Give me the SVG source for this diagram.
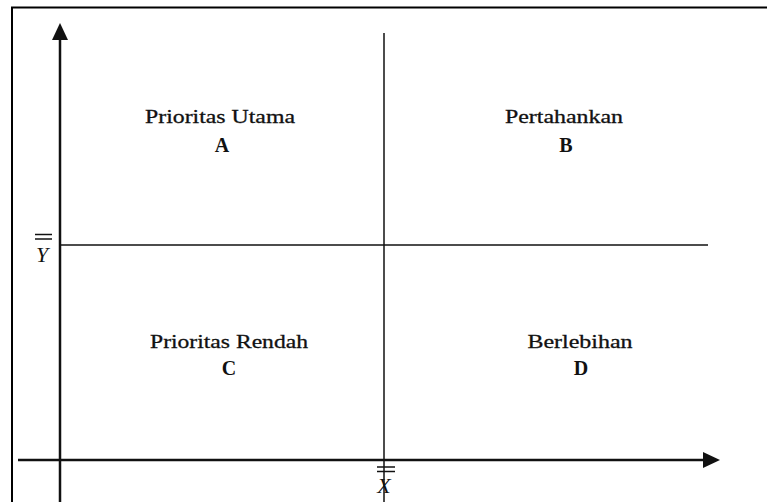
<svg xmlns="http://www.w3.org/2000/svg" width="767" height="502" viewBox="0 0 767 502">
<defs>
<style>
.ax{stroke:#111;stroke-width:2.5;fill:none}
.ln{stroke:#111;stroke-width:1.5;fill:none}
.lbl{font-family:"Liberation Serif",serif;font-size:19px;fill:#111;stroke:#111;stroke-width:0.3;text-anchor:middle}
.let{font-family:"Liberation Serif",serif;font-size:20px;font-weight:bold;fill:#111;text-anchor:middle}
.var{font-family:"Liberation Serif",serif;font-size:22px;font-style:italic;fill:#111;text-anchor:middle}
.bar{stroke:#111;stroke-width:1.5}
</style>
</defs>
<rect x="0" y="0" width="767" height="502" fill="#fff"/>
<g id="frame">
<path d="M12 502 V7.5 H767" stroke="#000" stroke-width="2" fill="none"/>
</g>
<g id="connectors">
<line class="ax" x1="60" y1="502" x2="60" y2="38"/>
<polygon points="60,23 52,40 68,40" fill="#111"/>
<line class="ax" x1="18" y1="460" x2="705" y2="460"/>
<polygon points="720,460 703,452 703,468" fill="#111"/>
<line class="ln" x1="384" y1="33" x2="384" y2="502"/>
<line class="ln" x1="60" y1="245" x2="708" y2="245"/>
</g>
<g id="ybar">
<line class="bar" x1="35" y1="234.5" x2="52" y2="234.5"/>
<line class="bar" x1="35" y1="239" x2="52" y2="239"/>
<text class="var" x="42" y="262">Y</text>
</g>
<g id="xbar">
<line class="bar" x1="377" y1="467" x2="395" y2="467"/>
<line class="bar" x1="377" y1="471.5" x2="395" y2="471.5"/>
<text class="var" x="384" y="493">X</text>
</g>
<g id="A">
<text class="lbl" x="220" y="123" textLength="150" lengthAdjust="spacingAndGlyphs">Prioritas Utama</text>
<text class="let" x="222" y="152">A</text>
</g>
<g id="B">
<text class="lbl" x="564" y="123" textLength="118" lengthAdjust="spacingAndGlyphs">Pertahankan</text>
<text class="let" x="566" y="152">B</text>
</g>
<g id="C">
<text class="lbl" x="229" y="348" textLength="158" lengthAdjust="spacingAndGlyphs">Prioritas Rendah</text>
<text class="let" x="229" y="375">C</text>
</g>
<g id="D">
<text class="lbl" x="580" y="348" textLength="105" lengthAdjust="spacingAndGlyphs">Berlebihan</text>
<text class="let" x="581" y="375">D</text>
</g>
</svg>
